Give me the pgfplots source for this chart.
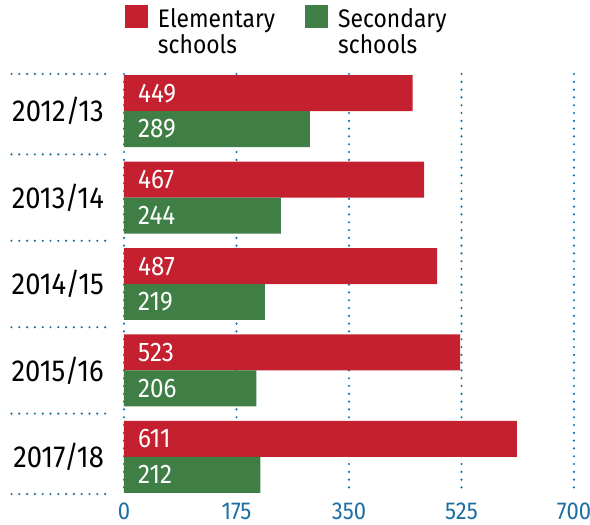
\documentclass[border=0pt]{standalone}
\usepackage{pgfplots}
\pgfplotsset{compat=1.18}
\usepackage{pgfplotstable}
\usepackage{fontspec}
\setmainfont{Fira Sans}[FakeStretch=0.9]

\definecolor{elem}{HTML}{C4202F}
\definecolor{sec}{HTML}{3F7F46}
\definecolor{gridblue}{HTML}{1B6FA3}

% Pupils per school year: elementary and secondary schools
\pgfplotstableread{
idx year    elem sec
0   2012/13 449  289
1   2013/14 467  244
2   2014/15 487  219
3   2015/16 523  206
4   2017/18 611  212
}\enrol

\pgfplotsset{/pgf/number format/assume math mode=true}
\tikzset{dotline/.style={gridblue, line width=2.4bp, line cap=round, dash pattern=on 0pt off 7.8bp}}

\begin{document}
\begin{tikzpicture}
\begin{axis}[
  scale only axis, width=450bp, height=420bp,
  xmin=0, xmax=700, ymin=-0.43, ymax=4.43, y dir=reverse,
  xbar, bar width=0.416,
  xtick={0,175,350,525,700},
  ytick={0,...,4}, yticklabels from table={\enrol}{year},
  axis line style={draw=none}, major tick length=0pt,
  xmajorgrids, grid style={dotline},
  xticklabel style={font=\fontsize{24.5}{25}\selectfont, text=gridblue, anchor=north, inner sep=0pt, yshift=-9bp},
  yticklabel style={font=\fontsize{30.5}{31}\selectfont, anchor=east, inner sep=0pt, xshift=-20bp},
  clip=false,
  legend columns=2,
  legend style={draw=none, fill=none, at={(0,1)}, anchor=south west, yshift=19bp, xshift=1bp,
    inner sep=0pt, outer sep=0pt,
    nodes={align=left, font=\fontsize{25.5}{26}\selectfont, inner sep=0pt},
    /tikz/every even column/.append style={column sep=30bp},
    /tikz/every odd column/.append style={column sep=10bp}},
  legend image code/.code={\fill[#1] (0bp,4bp) rectangle (23bp,27bp);},
]
\addplot[fill=elem, draw=none, bar shift=-0.208] table[x=elem, y=idx]{\enrol};
\addlegendentry{Elementary\\schools}
\addplot[fill=sec, draw=none, bar shift=0.208] table[x=sec, y=idx]{\enrol};
\addlegendentry{Secondary\\schools}

% value labels at the inner end of each bar
\addplot[forget plot, draw=none, fill=none, bar shift=-0.208, nodes near coords, point meta=explicit,
  nodes near coords style={white, anchor=west, inner sep=0pt, xshift=14bp, font=\fontsize{27}{27}\selectfont}]
  table[x expr=0, y=idx, meta=elem]{\enrol};
\addplot[forget plot, draw=none, fill=none, bar shift=0.208, nodes near coords, point meta=explicit,
  nodes near coords style={white, anchor=west, inner sep=0pt, xshift=14bp, font=\fontsize{27}{27}\selectfont}]
  table[x expr=0, y=idx, meta=sec]{\enrol};

% dotted separators between the years
\pgfplotsinvokeforeach{-0.43,0.5,1.5,2.5,3.5,4.43}{
  \draw[dotline] (axis cs:-175,#1) -- (axis cs:-20,#1);
}
\end{axis}
\pgfresetboundingbox
\useasboundingbox (-124bp,-31bp) rectangle (466bp,494bp);
\end{tikzpicture}
\end{document}
